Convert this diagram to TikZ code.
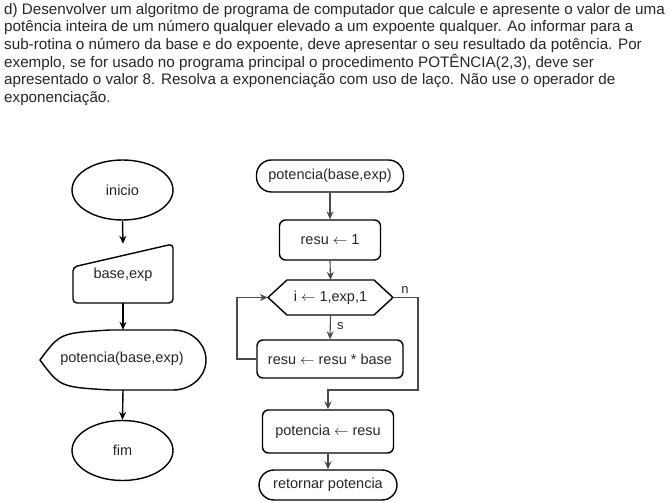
\documentclass[tikz,border=0pt]{standalone}
\usepackage{fontspec}
\setmainfont{Liberation Sans}
\usetikzlibrary{arrows.meta,shapes.geometric}
\definecolor{linegray}{HTML}{4A4A4A}
\begin{document}
\begin{tikzpicture}[x=1pt,y=-1pt,
  txt/.style={font=\fontsize{14.5}{17}\selectfont, text=black!85},
  shp/.style={draw=black, line width=1.4pt},
  term/.style={shp, txt, rectangle, rounded corners=15pt, minimum width=#1, minimum height=32pt, inner sep=0pt},
  procbox/.style={shp, txt, rectangle, rounded corners=6pt, minimum width=#1, inner sep=0pt},
  oval/.style={shp, txt, ellipse, minimum width=101pt, minimum height=60pt, inner sep=0pt},
  ghost/.style={txt, rectangle, inner sep=0pt},
  blk/.style={draw=black, line width=1.4pt, -{Stealth[length=8pt,width=7pt]}},
  gry/.style={draw=linegray, line width=1.1pt, -{Stealth[length=8pt,width=7pt]}},
  lbl/.style={font=\fontsize{13}{15}\selectfont, text=black!85}
]
\useasboundingbox (0,0) rectangle (671,502);

% paragraph
\node[anchor=north west, inner sep=0pt, align=left, font=\fontsize{15.2}{17.6}\selectfont, text=black!85] (para) at (4,3)
{d) Desenvolver um algoritmo de programa de computador que calcule e apresente o valor de uma\\
potência inteira de um número qualquer elevado a um expoente qualquer. Ao informar para a\\
sub-rotina o número da base e do expoente, deve apresentar o seu resultado da potência. Por\\
exemplo, se for usado no programa principal o procedimento POTÊNCIA(2,3), deve ser\\
apresentado o valor 8. Resolva a exponenciação com uso de laço. Não use o operador de\\
exponenciação.};

% left chart
\node[oval] (inicio) at (122.5,190) {inicio};
\node[ghost, minimum width=100pt, minimum height=59pt] (input) at (123,273.5) {};
\draw[shp, rounded corners=4pt] (73,267) -- (173,244) -- (173,303) -- (73,303) -- cycle;
\node[txt] at (123,275) {base,exp};
\node[ghost, minimum width=166pt, minimum height=60pt] (disp) at (123,360) {};
\draw[shp] (40,360) .. controls (60,333) .. (110,330) -- (173,330)
  arc[start angle=-90, end angle=90, x radius=33, y radius=30]
  -- (110,390) .. controls (60,387) .. (40,360) -- cycle;
\node[txt] at (122,359) {potencia(base,exp)};
\node[oval] (fim) at (122.5,450.5) {fim};

\draw[blk] (inicio.south) -- (input.north);
\draw[blk] (input.south) -- (disp.north);
\draw[blk] (disp.south) -- (fim.north);

% right chart
\node[term=147pt] (t1) at (330,176) {potencia(base,exp)};
\node[procbox=101pt, minimum height=40pt] (b1) at (330,240) {resu $\leftarrow$ 1};
\node[ghost, minimum width=125pt, minimum height=35pt] (hex) at (330.5,297.5) {};
\draw[shp] (268,297.5) -- (287,280) -- (374,280) -- (393,297.5) -- (374,315) -- (287,315) -- cycle;
\node[txt] at (330.5,297.5) {i $\leftarrow$ 1,exp,1};
\node[procbox=146pt, minimum height=38pt] (b2) at (330,359) {resu $\leftarrow$ resu * base};
\node[procbox=131pt, minimum height=43pt] (b3) at (328,431.5) {potencia $\leftarrow$ resu};
\node[term=138pt, minimum height=30pt] (t2) at (328,485) {retornar potencia};

\coordinate (nr) at (418,297.5);
\coordinate (nd) at (418,390);
\coordinate (lb) at (237,359);
\coordinate (lt) at (237,297.5);

\draw[gry] (t1.south) -- (b1.north);
\draw[gry] (b1.south) -- (hex.north);
\draw[gry] (hex.south) -- (b2.north) node[lbl, pos=0.45, right=3pt] (slbl) {s};
\draw[gry] (b2.west) -- (lb) -- (lt) -- (hex.west);
\draw[gry] (hex.east) -- (nr) -- (nd) -- (nd -| b3.north) -- (b3.north);
\node[lbl, anchor=south] (nlbl) at (405,297) {n};
\draw[gry] (b3.south) -- (t2.north);
\end{tikzpicture}
\end{document}
